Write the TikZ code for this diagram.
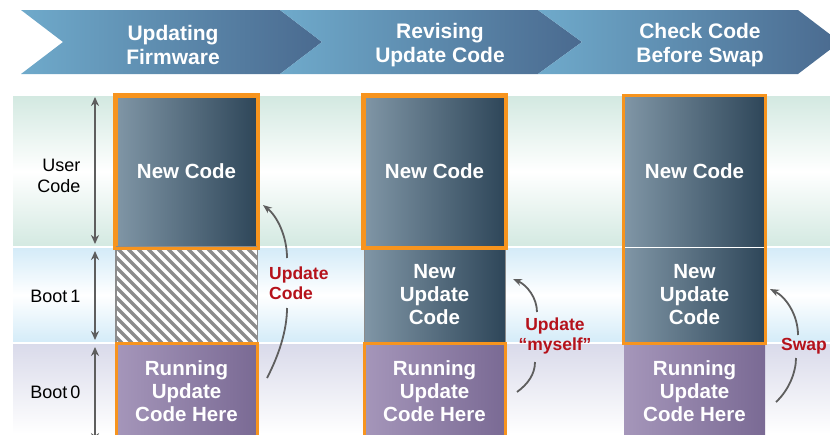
\documentclass[tikz,border=0pt]{standalone}
\usepackage{fontspec}
\setmainfont{Liberation Sans}
\usetikzlibrary{arrows.meta}

\definecolor{hdrlight}{HTML}{6FAACB}
\definecolor{hdrdark}{HTML}{4A6A8F}
\definecolor{usertint}{HTML}{D3E9E1}
\definecolor{boottint}{HTML}{D3EBF8}
\definecolor{zerotint}{HTML}{D9DAEA}
\definecolor{newleft}{HTML}{8096A6}
\definecolor{newright}{HTML}{2E4659}
\definecolor{runleft}{HTML}{A596BA}
\definecolor{runright}{HTML}{7A6A94}
\definecolor{codeorange}{HTML}{F7941E}
\definecolor{arrowgrey}{HTML}{5E5E5E}
\definecolor{hatchgrey}{HTML}{8C8C8C}
\definecolor{labelred}{HTML}{B5121B}

\tikzset{
  chevron/.style={left color=hdrlight, right color=hdrdark},
  hdrtext/.style={text=white, font=\bfseries\fontsize{21}{24}\selectfont, align=center},
  codebox/.style={minimum width=141pt, inner sep=0pt, align=center, text=white,
    font=\bfseries\fontsize{20.5}{23}\selectfont},
  newbox/.style={codebox, left color=newleft, right color=newright},
  runbox/.style={codebox, left color=runleft, right color=runright},
  hot/.style={draw=codeorange, line width=3pt},
  greyedge/.style={draw=hatchgrey, line width=1pt},
  bandlabel/.style={font=\fontsize{18}{21}\selectfont, align=right, anchor=east},
  sizearrow/.style={{Stealth[length=9pt,width=8pt]}-{Stealth[length=9pt,width=8pt]},
    draw=arrowgrey, line width=2pt},
  flow/.style={draw=arrowgrey, line width=1.8pt},
  redlabel/.style={text=labelred, font=\bfseries\fontsize{17.5}{20}\selectfont, inner sep=0pt}
}

\begin{document}
\begin{tikzpicture}[x=1pt,y=-1pt]
    \useasboundingbox (0,0) rectangle (830,434);
    % header chevrons
    \shade[chevron] (21,10) -- (280,10) -- (322,42) -- (280,74) -- (21,74) -- (63,42) -- cycle;
    \shade[chevron] (280,10) -- (538,10) -- (582,42) -- (538,74) -- (280,74) -- (322,42) -- cycle;
    \shade[chevron] (538,10) -- (798,10) -- (840,42) -- (798,74) -- (538,74) -- (582,42) -- cycle;
    \node[hdrtext] (hdr1) at (173,45) {Updating\\Firmware};
    \node[hdrtext] (hdr2) at (440,45) {Revising\\Update Code};
    \node[hdrtext] (hdr3) at (700,45) {Check Code\\Before Swap};

    % memory bands
    \shade[top color=usertint, bottom color=usertint, middle color=white] (13,96) rectangle (830,247);
    \shade[top color=boottint, bottom color=boottint, middle color=white] (13,247) rectangle (830,343);
    \shade[top color=zerotint, bottom color=white] (13,343) rectangle (830,434);
    \draw[white, line width=1.5pt] (13,247) -- (830,247);
    \draw[white, line width=1.5pt] (13,343) -- (830,343);

    \node[bandlabel] (user) at (84,176) {User\\Code};
    \node[bandlabel] (boot1) at (84,296) {Boot\,1};
    \node[bandlabel] (boot0) at (84,392) {Boot\,0};
    \coordinate (ut) at (95,97);  \coordinate (ub) at (95,244);
    \coordinate (bt) at (95,251); \coordinate (bb) at (95,340);
    \coordinate (zt) at (95,347); \coordinate (zb) at (95,442);
    \draw[sizearrow] (ut) -- (ub);
    \draw[sizearrow] (bt) -- (bb);
    \draw[sizearrow] (zt) -- (zb);

    % column 1
    \node[newbox, minimum height=151pt, hot] (new1) at (186.5,171.5) {New Code};
    \node[greyedge, fill=white, minimum width=141pt, minimum height=96pt] (old1) at (186.5,295) {};
    \begin{scope}
        \clip (old1.south west) rectangle (old1.north east);
        \foreach \x in {-100,-90,...,150}
        \draw[hatchgrey, line width=3.5pt, xshift=\x pt] (116,247) -- (212,343);
    \end{scope}
    \draw[greyedge] (old1.south west) rectangle (old1.north east);
    \node[runbox, minimum height=96pt, hot] (run1) at (186.5,391) {Running\\Update\\Code Here};
    \draw[hot] (new1.north west) rectangle (new1.south east);

    % column 2
    \node[newbox, minimum height=151pt, hot] (new2) at (434.5,171.5) {New Code};
    \node[newbox, minimum height=96pt, greyedge] (upd2) at (434.5,295) {New\\Update\\Code};
    \node[runbox, minimum height=96pt, hot] (run2) at (434.5,391) {Running\\Update\\Code Here};
    \draw[hot] (new2.north west) rectangle (new2.south east);

    % column 3
    \node[newbox, minimum height=151pt] (new3) at (694.5,171.5) {New Code};
    \node[newbox, minimum height=96pt] (upd3) at (694.5,295) {New\\Update\\Code};
    \node[runbox, minimum height=96pt] (run3) at (694.5,391) {Running\\Update\\Code Here};
    \draw[white, line width=1.2pt] (new3.south west) -- (new3.south east);
    \draw[hot] (new3.north west) rectangle (upd3.south east);

    % transfers
    \node[redlabel, anchor=west, align=left] (lab1) at (269,283) {Update\\Code};
    \node[redlabel, align=center] (lab2) at (555,336) {Update\\“myself”};
    \node[redlabel] (lab3) at (804,346) {Swap};

    \coordinate (a1s) at (267,378); \coordinate (a1m) at (287,308);
    \coordinate (a1n) at (287,258); \coordinate (a1e) at (263,205);
    \draw[flow] (a1s) .. controls (279,355) and (287,330) .. (a1m);
    \draw[flow, -{Stealth[length=9pt,width=7pt]}] (a1n) .. controls (287,236) and (277,216) .. (a1e);

    \coordinate (a2s) at (517,392); \coordinate (a2m) at (535,362);
    \coordinate (a2n) at (537,312); \coordinate (a2e) at (513,279);
    \draw[flow] (a2s) .. controls (528,384) and (535,374) .. (a2m);
    \draw[flow, -{Stealth[length=9pt,width=7pt]}] (a2n) .. controls (537,298) and (527,285) .. (a2e);

    \coordinate (a3s) at (776,402); \coordinate (a3m) at (796,358);
    \coordinate (a3n) at (798,335); \coordinate (a3e) at (770,289);
    \draw[flow] (a3s) .. controls (789,390) and (796,372) .. (a3m);
    \draw[flow, -{Stealth[length=9pt,width=7pt]}] (a3n) .. controls (798,315) and (786,297) .. (a3e);
\end{tikzpicture}
\end{document}
